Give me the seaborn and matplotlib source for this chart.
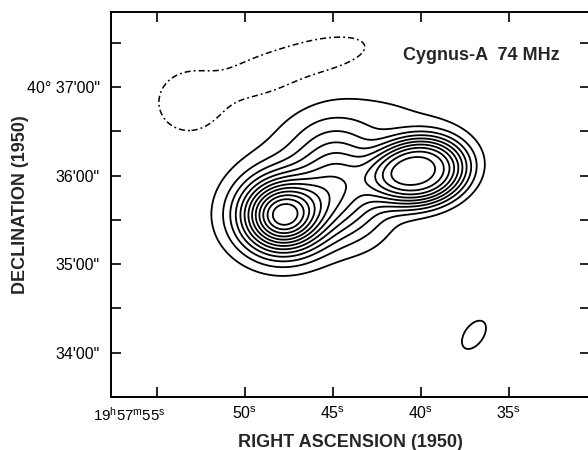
import numpy as np
import matplotlib
matplotlib.use("Agg")
import matplotlib.pyplot as plt
import matplotlib.transforms as mtransforms
import seaborn as sns

# Brightness model of the source, one component per entry.
# RA in seconds past 19h57m, Dec in arcmin past 40 deg, peak in contour units,
# widths in arcsec along / across the component axis, position angle in degrees
# counter-clockwise from west, and the radial profile exponent (2 = Gaussian).
comp_ra    = [47.841, 40.114, 44.489, 44.034, 44.318, 53.125, 48.864, 45.170, 36.989]
comp_dec   = [35.547, 36.046, 35.894, 36.512, 35.970, 36.826, 37.130, 37.380, 34.202]
comp_amp   = [13.0, 9.7, 5.1, 1.0, 0.8, -2.2, -2.0, -2.0, 2.0]
comp_major = [18.9, 24.7, 18.2, 45.6, 68.3, 15.6, 26.0, 19.5, 9.1]
comp_minor = [17.6, 18.2, 24.7, 22.8, 27.3, 15.6, 11.1, 7.8, 5.2]
comp_pa    = [0.0, 10.0, 19.0, 12.0, 19.0, 0.0, 18.0, 12.0, 57.0]
comp_power = [2, 3, 2, 2, 2, 2, 2, 2, 2]

pos_levels = [1, 2, 3, 4, 5, 6, 7, 8, 9, 10, 11, 12, 13]
neg_levels = [-1]

ra_ticks = [55, 50, 45, 40, 35]
ra_labels = [r"19$^{\mathrm{h}}$57$^{\mathrm{m}}$55$^{\mathrm{s}}$",
             r"50$^{\mathrm{s}}$", r"45$^{\mathrm{s}}$",
             r"40$^{\mathrm{s}}$", r"35$^{\mathrm{s}}$"]
dec_ticks = [34, 35, 36, 37]
dec_labels = ["34'00\"", "35'00\"", "36'00\"", "40\u00b0 37'00\""]
dec_minor = [33.5, 34.5, 35.5, 36.5, 37.5]

sns.set_theme(style="ticks")
plt.rcParams["font.family"] = ["Liberation Sans", "DejaVu Sans"]
plt.rcParams["mathtext.fontset"] = "custom"
plt.rcParams["mathtext.rm"] = "Liberation Sans"
plt.rcParams["mathtext.it"] = "Liberation Sans"

# evaluate the model on a grid
ra = np.linspace(29.0, 59.0, 800)
dec = np.linspace(33.4, 38.1, 640)
RA, DEC = np.meshgrid(ra, dec)
cosd = np.cos(np.radians(40.0 + 35.8 / 60.0))
field = np.zeros_like(RA)
for r0, d0, a, smaj, smin, pa, pw in zip(comp_ra, comp_dec, comp_amp,
                                         comp_major, comp_minor, comp_pa,
                                         comp_power):
    u = -(RA - r0) * 15.0 * cosd
    v = (DEC - d0) * 60.0
    t = np.radians(pa)
    p = u * np.cos(t) + v * np.sin(t)
    q = -u * np.sin(t) + v * np.cos(t)
    r2 = (p / smaj) ** 2 + (q / smin) ** 2
    field += a * np.exp(-0.5 * r2 ** (pw / 2.0))

fig = plt.figure(figsize=(5.88, 4.5), dpi=100)
ax = fig.add_axes([0.1888, 0.1178, 0.8142, 0.8556])
ax.set_facecolor("white")

ax.contour(RA, DEC, field, levels=pos_levels, colors="black",
           linewidths=1.3)
ax.contour(RA, DEC, field, levels=neg_levels, colors="black",
           linewidths=1.1, linestyles=[(0, (4, 2, 1.2, 2))])

ax.set_xlim(57.61, 30.41)
ax.set_ylim(33.674, 37.848)

ax.set_xticks(ra_ticks)
ax.set_xticklabels(ra_labels)
ax.set_yticks(dec_ticks)
ax.set_yticklabels(dec_labels)
ax.set_yticks(dec_minor, minor=True)
ax.tick_params(axis="both", which="both", direction="in", length=7.5,
               width=1.2, top=True, right=True, labelsize=11.5,
               colors="black")
ax.tick_params(axis="x", which="both", pad=6)
ax.tick_params(axis="y", which="both", pad=8)
ax.tick_params(axis="x", which="minor", top=False, bottom=False)
for s in ax.spines.values():
    s.set_linewidth(1.4)
    s.set_color("black")

# the full time label sits with its seconds under the tick
first = ax.get_xticklabels()[0]
first.set_fontsize(10.8)
first.set_horizontalalignment("right")
first.set_transform(first.get_transform() +
                    mtransforms.ScaledTranslation(0.085, 0, fig.dpi_scale_trans))

ax.set_xlabel("RIGHT ASCENSION (1950)", fontsize=13, fontweight="bold")
ax.set_ylabel("DECLINATION (1950)", fontsize=13, fontweight="bold")
ax.xaxis.set_label_coords(0.5, -0.096)
ax.yaxis.set_label_coords(-0.172, 0.5)

ax.text(0.61, 0.886, "Cygnus-A  74 MHz", transform=ax.transAxes,
        fontsize=13, fontweight="bold", ha="left", va="center")

fig.savefig("out.png", dpi=100, facecolor="white")
